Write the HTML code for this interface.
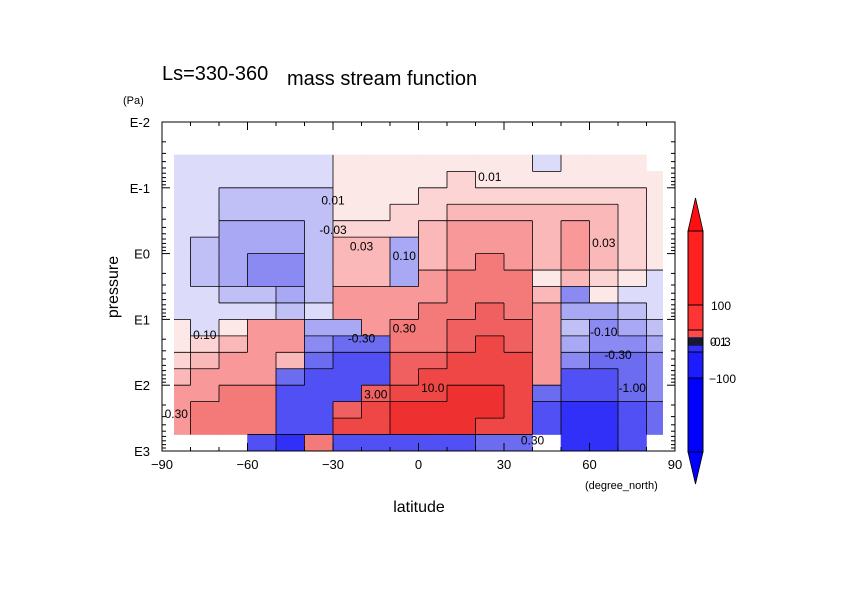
<!DOCTYPE html>
<html><head><meta charset="utf-8"><style>
body{margin:0;background:#fff}
svg{display:block;font-family:"Liberation Sans",sans-serif}
</style></head><body>
<svg id="chart" width="842" height="595" viewBox="0 0 842 595">
<defs><clipPath id="dclip"><rect x="174" y="148" width="489" height="303"/></clipPath></defs>
<g id="cells" clip-path="url(#dclip)"></g>
<g id="edges" clip-path="url(#dclip)" stroke="#000" stroke-width="0.8"></g>
<g id="labels" font-size="12" fill="#000"></g>
<rect x="162" y="122" width="513" height="329" fill="none" stroke="#000" stroke-width="1"/>
<g id="axes" stroke="#000" stroke-width="1"></g>
<g font-size="13" fill="#000">
<text x="162" y="80" font-size="20">Ls=330-360</text>
<text x="287" y="85" font-size="20">mass stream function</text>
<text x="123" y="104" font-size="11">(Pa)</text>
<text x="118" y="287" font-size="16" transform="rotate(-90 118 287)" text-anchor="middle">pressure</text>
<text x="419" y="512" font-size="16" text-anchor="middle">latitude</text>
<text x="585" y="489" font-size="11">(degree_north)</text>
</g>
<g id="colorbar"></g>
</svg>
<script>
const lats=[-85,-75,-65,-55,-45,-35,-25,-15,-5,5,15,25,35,45,55,65,75,85];
const logp=[-1.375,-1.125,-0.875,-0.625,-0.375,-0.125,0.125,0.375,0.625,0.875,1.125,1.375,1.625,1.875,2.125,2.375,2.625,2.875];
const N=null;
const r00=[-0.005,-0.005,-0.005,-0.005,-0.005,-0.005,0.005,0.005,0.005,0.005,0.005,0.005,0.005,-0.005,0.005,0.005,0.005,N];
const r01=[-0.005,-0.005,-0.005,-0.005,-0.005,-0.005,0.005,0.005,0.005,0.005,0.02,0.005,0.005,0.005,0.005,0.005,0.005,0.005];
const r02=[-0.005,-0.005,-0.02,-0.02,-0.02,-0.02,0.005,0.005,0.005,0.02,0.02,0.02,0.02,0.02,0.02,0.02,0.02,0.005];
const r03=[-0.005,-0.005,-0.02,-0.02,-0.02,-0.02,0.005,0.005,0.02,0.02,0.05,0.05,0.05,0.05,0.05,0.05,0.02,0.005];
const r04=[-0.005,-0.005,-0.05,-0.05,-0.05,-0.02,0.02,0.02,0.02,0.05,0.2,0.2,0.2,0.05,0.2,0.05,0.02,0.005];
const r05=[-0.005,-0.02,-0.05,-0.05,-0.05,-0.02,0.05,0.05,-0.05,0.05,0.2,0.2,0.2,0.05,0.2,0.05,0.02,0.005];
const r06=[-0.005,-0.02,-0.05,-0.2,-0.2,-0.02,0.05,0.05,-0.05,0.05,0.2,0.5,0.2,0.05,0.2,0.05,0.02,0.005];
const r07=[-0.005,-0.02,-0.05,-0.2,-0.2,-0.02,0.05,0.05,-0.05,0.2,0.5,0.5,0.5,0.005,0.05,0.02,0.005,-0.005];
const r08=[-0.005,-0.005,-0.02,-0.02,-0.05,-0.02,0.2,0.2,0.2,0.2,0.5,0.5,0.5,0.05,-0.2,0.005,-0.005,-0.005];
const r09=[-0.005,-0.005,-0.005,-0.005,-0.02,-0.005,0.2,0.2,0.2,0.5,0.5,2,0.5,0.2,-0.05,-0.05,-0.02,-0.005];
const r10=[0.005,-0.005,0.005,0.2,0.2,-0.05,-0.05,0.2,0.5,0.5,2,2,2,0.2,-0.02,-0.2,-0.05,-0.02];
const r11=[0.005,0.02,0.05,0.2,0.2,-0.2,-0.5,-0.5,0.5,0.5,2,5,2,0.2,-0.05,-0.2,-0.2,-0.05];
const r12=[0.02,0.05,0.2,0.2,0.05,-0.5,-2,-2,2,2,5,5,5,0.2,-0.2,-0.5,-0.5,-0.2];
const r13=[0.05,0.2,0.2,0.2,-0.5,-2,-2,-2,2,5,5,5,5,0.2,-2,-2,-0.5,-0.2];
const r14=[0.2,0.2,0.5,0.5,-2,-2,-2,2,5,5,15,15,5,-0.5,-2,-2,-0.5,-0.2];
const r15=[0.2,0.5,0.5,0.5,-2,-2,2,5,15,15,15,15,5,-2,-5,-5,-2,-0.5];
const r16=[0.2,0.5,0.5,0.5,-2,-2,5,5,15,15,15,5,5,-2,-5,-5,-2,-0.5];
const r17=[N,N,N,-2,-5,0.5,-2,-2,-2,-2,-2,-0.5,-0.5,N,-5,-5,-2,N];
const grid=[r00,r01,r02,r03,r04,r05,r06,r07,r08,r09,r10,r11,r12,r13,r14,r15,r16,r17];
const levels=[-3,-1,-0.3,-0.1,-0.03,-0.01,0,0.01,0.03,0.1,0.3,1,3,10];
const colors=["#3030f8","#5050f4","#6c6cf0","#8a8af2","#a8a8f5","#c0c0f6","#dcdcfa","#fde8e8","#fcd4d4","#fbb8b8","#f89898","#f47a7a","#f06060","#ef4646","#ee3030"];
const xTicks=[-90,-60,-30,0,30,60,90];
const yTicks=["E-2","E-1","E0","E1","E2","E3"];
const cLabels=[["0.01",-30,-0.75],["-0.03",-30,-0.3],["0.01",25,-1.1],["0.10",-5,0.1],["0.03",-20,-0.05],["0.03",65,-0.1],["0.30",-5,1.2],["0.10",-75,1.3],["-0.30",-20,1.35],["0.30",-85,2.5],["3.00",-15,2.2],["10.0",5,2.1],["-0.10",65,1.25],["-0.30",70,1.6],["-1.00",75,2.1],["0.30",40,2.9]];

const X=lat=>162+(lat+90)*513/180;
const Y=lp=>122+(lp+2)*65.8;
const NS="http://www.w3.org/2000/svg";
function levelOf(v){let i=0;while(i<levels.length&&v>levels[i])i++;return i;}
function colorOf(v){return colors[levelOf(v)];}
const cells=document.getElementById('cells');
const edges=document.getElementById('edges');
function edge(x1,y1,x2,y2){const l=document.createElementNS(NS,'line');l.setAttribute('x1',x1);l.setAttribute('y1',y1);l.setAttribute('x2',x2);l.setAttribute('y2',y2);
  
  
  edges.appendChild(l);}
grid.forEach((row,i)=>row.forEach((v,j)=>{
  if(v===null)return;
  const r=document.createElementNS(NS,'rect');
  const x0=X(lats[j]-5),x1=X(lats[j]+5),y0=Y(logp[i]-0.125),y1=Y(logp[i]+0.125);
  r.setAttribute('x',x0-0.3);r.setAttribute('y',y0-0.3);
  r.setAttribute('width',x1-x0+0.6);r.setAttribute('height',y1-y0+0.6);
  r.setAttribute('fill',colorOf(v));
  
  
  cells.appendChild(r);
  const right=row[j+1];
  if(right!==undefined&&right!==null&&levelOf(right)!==levelOf(v))edge(x1,y0,x1,y1);
  const below=grid[i+1]?grid[i+1][j]:null;
  if(below!==null&&below!==undefined&&levelOf(below)!==levelOf(v))edge(x0,y1,x1,y1);
}));
const lab=document.getElementById('labels');
cLabels.forEach(c=>{
  const t=document.createElementNS(NS,'text');
  t.setAttribute('x',X(c[1]));t.setAttribute('y',Y(c[2]));t.setAttribute('text-anchor','middle');
  t.textContent=c[0];
  
  
  lab.appendChild(t);
});
const ax=document.getElementById('axes');
function line(x1,y1,x2,y2,name){const l=document.createElementNS(NS,'line');l.setAttribute('x1',x1);l.setAttribute('y1',y1);l.setAttribute('x2',x2);l.setAttribute('y2',y2);
  
  
  ax.appendChild(l);}
function text(x,y,s,anchor,name){const t=document.createElementNS(NS,'text');t.setAttribute('x',x);t.setAttribute('y',y);t.setAttribute('text-anchor',anchor);t.setAttribute('font-size','13');t.setAttribute('stroke','none');t.textContent=s;
  
  
  ax.appendChild(t);}
for(let lat=-90;lat<=90;lat+=10){const big=lat%30===0;const x=X(lat);
  line(x,451,x,451-(big?8:4),'x-tick');line(x,122,x,122+(big?8:4),'x-tick-top');}
xTicks.forEach(l=>text(X(l),469,l<0?'−'+(-l):String(l),'middle','x-tick-label'));
yTicks.forEach((s,k)=>{const y=Y(k-2);line(162,y,170,y,'y-tick');line(675,y,667,y,'y-tick-right');text(150,y+5,s,'end','y-tick-label');
  if(k<5)for(let m=2;m<10;m++){const yy=Y(k-2+Math.log10(m));line(162,yy,166,yy,'y-minor-tick');line(675,yy,671,yy,'y-minor-tick-right');}});
const cb=document.getElementById('colorbar');
const cbSegs=[[231,305,"#ff2020"],[305,330,"#ff3434"],[330,337,"#ff4848"],[337,345,"#303060"],[345,352,"#3030f8"],[352,378,"#1c1cff"],[378,452,"#0000ff"]];
function add(tag,attrs,name){const e=document.createElementNS(NS,tag);for(const k in attrs)e.setAttribute(k,attrs[k]);
  
  
  cb.appendChild(e);return e;}
add('polygon',{points:"688,231 703,231 695.5,198",fill:"#ff1010",stroke:"#000","stroke-width":0.8},'colorbar-top-arrow');
add('polygon',{points:"688,452 703,452 695.5,484",fill:"#0000ff",stroke:"#000","stroke-width":0.8},'colorbar-bottom-arrow');
cbSegs.forEach(s=>add('rect',{x:688,y:s[0],width:15,height:s[1]-s[0],fill:s[2]},'colorbar-segment'));
[305,330,339,341,343,345,352,378].forEach(y=>add('line',{x1:688,x2:703,y1:y,y2:y,stroke:"#000","stroke-width":1},'colorbar-divider'));
add('rect',{x:688,y:231,width:15,height:221,fill:"none",stroke:"#000","stroke-width":1},'colorbar-frame');
const t1=add('text',{x:711,y:310,"font-size":12},'colorbar-label');t1.textContent='100';
const t2=add('text',{x:710,y:346,"font-size":12},'colorbar-label');t2.textContent='0.1';
const t2b=add('text',{x:710,y:346,"font-size":12},'colorbar-label');t2b.textContent='-0.3';
const t3=add('text',{x:709,y:383,"font-size":12},'colorbar-label');t3.textContent='−100';
</script>
</body></html>
